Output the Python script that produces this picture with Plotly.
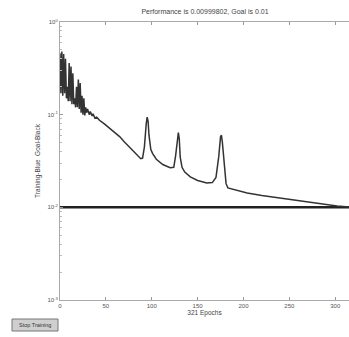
import plotly.graph_objects as go

epochs = [0, 1, 2, 3, 4, 5, 6, 7, 8, 9, 10, 11, 12, 13, 14, 15, 16, 17, 18, 19,
          20, 21, 22, 23, 24, 25, 26, 27, 28, 29, 30, 32, 33, 35, 36, 38, 40, 43,
          48, 54, 60, 65, 70, 76, 80, 85, 88, 90, 92, 94, 95, 96, 97, 99, 101, 105,
          112, 120, 124, 126, 128, 129, 130, 131, 133, 136, 142, 150, 160, 166, 170,
          173, 175, 176, 177, 179, 181, 183, 190, 204, 220, 240, 260, 276, 290, 302, 321]
performance = [0.46, 0.17, 0.48, 0.16, 0.45, 0.17, 0.40, 0.15, 0.20, 0.14, 0.36, 0.14,
               0.33, 0.13, 0.28, 0.13, 0.15, 0.12, 0.20, 0.12, 0.24, 0.115, 0.22, 0.105,
               0.16, 0.10, 0.15, 0.098, 0.12, 0.105, 0.115, 0.10, 0.108, 0.097, 0.102,
               0.092, 0.094, 0.087, 0.080, 0.072, 0.064, 0.058, 0.051, 0.044, 0.040,
               0.036, 0.0335, 0.034, 0.045, 0.080, 0.094, 0.085, 0.060, 0.042, 0.038,
               0.033, 0.029, 0.0268, 0.027, 0.036, 0.058, 0.064, 0.055, 0.035, 0.027,
               0.024, 0.0213, 0.0195, 0.0183, 0.0185, 0.021, 0.035, 0.058, 0.060, 0.050,
               0.030, 0.018, 0.0162, 0.0155, 0.0143, 0.0134, 0.0126, 0.0118, 0.0111,
               0.0107, 0.01036, 0.00999802]
goal = 0.01
goal_x = [0, 321]
y_tickvals = [0.001, 0.01, 0.1, 1]
y_ticktext = ["10<sup>-3</sup>", "10<sup>-2</sup>", "10<sup>-1</sup>", "10<sup>0</sup>"]
y_minor_vals = [m * d for d in (0.001, 0.01, 0.1) for m in range(2, 10)]
x_tickvals = [0, 50, 100, 150, 200, 250, 300]

fig = go.Figure()
fig.add_trace(go.Scatter(x=goal_x, y=[goal, goal], mode="lines",
                         line=dict(color="#222222", width=2.5), showlegend=False))
fig.add_trace(go.Scatter(x=epochs, y=performance, mode="lines",
                         line=dict(color="#333333", width=1.5), showlegend=False))

fam = "Liberation Sans, Arial, sans-serif"
fnt = dict(family=fam, size=6, color="#555555")

fig.update_layout(
    width=349, height=337,
    margin=dict(l=60, r=0, t=22, b=37, autoexpand=False),
    paper_bgcolor="white", plot_bgcolor="white",
    font=fnt,
    title=dict(text="Performance is 0.00999802, Goal is 0.01", x=205/349, xanchor="center",
               y=1 - 12/337, yanchor="middle", font=dict(family=fam, size=7, color="#444444")),
    xaxis=dict(range=[0, 315], tickvals=x_tickvals, ticks="inside", ticklen=3,
               tickcolor="#999999", showline=True, linecolor="#aaaaaa", linewidth=1,
               mirror="ticks", showgrid=False, zeroline=False, automargin=False,
               tickfont=fnt,
               title=dict(text="321 Epochs", standoff=2, font=dict(family=fam, size=6.5, color="#444444"))),
    yaxis=dict(type="log", range=[-3, 0], tickvals=y_tickvals, ticktext=y_ticktext,
               ticks="inside", ticklen=3, tickcolor="#999999", showline=True,
               linecolor="#aaaaaa", linewidth=1, mirror=False, showgrid=False, zeroline=False,
               automargin=False, tickfont=fnt,
               minor=dict(ticks="inside", ticklen=2, tickcolor="#bbbbbb", showgrid=False,
                          tickmode="array", tickvals=y_minor_vals),
               title=dict(text="Training-Blue  Goal-Black", standoff=6,
                          font=dict(family=fam, size=6.5, color="#444444"))),
)

fig.add_shape(type="rect", xref="paper", yref="paper",
              x0=(12 - 60) / 289, x1=(58 - 60) / 289,
              y0=-(331 - 300) / 278, y1=-(319 - 300) / 278,
              fillcolor="#cfcfcf", line=dict(color="#777777", width=1))
fig.add_annotation(text="Stop Training", xref="paper", yref="paper",
                   x=(35 - 60) / 289, y=-(325 - 300) / 278, showarrow=False,
                   xanchor="center", yanchor="middle",
                   font=dict(family=fam, size=5.5, color="#333333"))

fig.write_html("out.html", config={"displayModeBar": False},
               post_script="document.body.style.margin='0px';document.body.style.overflow='hidden';")
